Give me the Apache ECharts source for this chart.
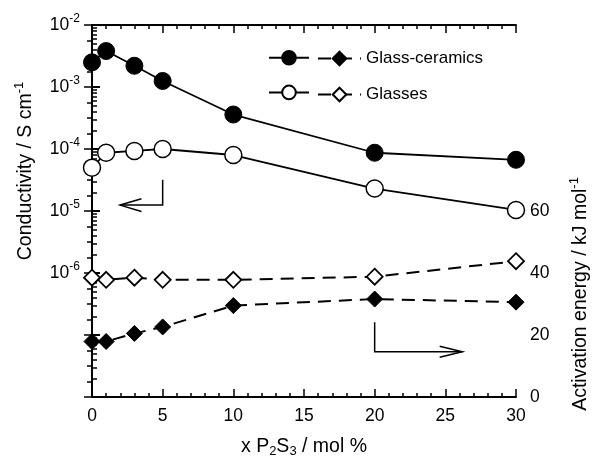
<!DOCTYPE html>
<html>
<head>
<meta charset="utf-8">
<script src="https://cdn.jsdelivr.net/npm/echarts@6/dist/echarts.min.js"></script>
<style>
html,body{margin:0;padding:0;background:#fff;}
#c{width:602px;height:463px;}
</style>
</head>
<body>
<div id="c"></div>
<script>
// ---- data ----
var xValues = [0, 1, 3, 5, 10, 20, 30];                 // x P2S3 / mol %
var gcConductivity = [2.5e-3, 3.8e-3, 2.2e-3, 1.25e-3, 3.6e-4, 8.7e-5, 6.7e-5]; // S/cm
var glConductivity = [5.0e-5, 8.7e-5, 9.3e-5, 1.0e-4, 8.0e-5, 2.3e-5, 1.04e-5]; // S/cm
var gcActivation = [17.9, 17.9, 20.5, 22.6, 29.5, 31.6, 30.6];                   // kJ/mol
var glActivation = [38.5, 37.8, 38.5, 37.8, 37.8, 38.8, 43.8];                   // kJ/mol
var xTicks = [0, 5, 10, 15, 20, 25, 30];
var leftTickExponents = [-2, -3, -4, -5, -6];
var rightTickLabels = [0, 20, 40, 60];
// annotation arrows (data coordinates)
var leftArrow = [[5, 3.2e-5], [5, 1.245e-5], [1.98, 1.245e-5]];
var leftArrowHead = [[3.5, 1.58e-5], [1.98, 1.245e-5], [3.5, 9.8e-6]];
var rightArrow = [[20, 24.1], [20, 14.6], [26.2, 14.6]];
var rightArrowHead = [[24.6, 16.35], [26.2, 14.6], [24.6, 12.85]];

function pairs(xs, ys) { return xs.map(function (x, i) { return [x, ys[i]]; }); }

var FONT = 'Liberation Sans, Arial, sans-serif';
var minorLogTicks = [];
for (var n = -8; n < -2; n++) {
  for (var k = 2; k <= 9; k++) minorLogTicks.push(n + Math.log10(k));
}

var chart = echarts.init(document.getElementById('c'), null, {renderer: 'canvas', width: 602, height: 463});

var black = '#000';
var axisLineStyle = {color: black, width: 2};

var option = {
  backgroundColor: '#fff',
  animation: false,
  textStyle: {fontFamily: FONT, color: black},
  grid: {left: 92, right: 86, top: 25, bottom: 60, containLabel: false},
  legend: [
    {
      data: ['gcCond', 'glCond'],
      orient: 'vertical', left: 263, top: 45,
      itemWidth: 40, itemHeight: 17, itemGap: 19,
      selectedMode: false,
      formatter: function () { return ''; },
      textStyle: {fontSize: 10, lineHeight: 17}
    },
    {
      data: ['gcEa', 'glEa'],
      orient: 'vertical', left: 312, top: 45,
      itemWidth: 43, itemHeight: 17, itemGap: 19,
      selectedMode: false,
      formatter: function (name) { return name === 'gcEa' ? 'Glass-ceramics' : 'Glasses'; },
      textStyle: {fontSize: 17, lineHeight: 17, color: black, fontFamily: FONT}
    }
  ],
  xAxis: [
    {
      type: 'value', position: 'bottom', min: 0, max: 30, interval: 5,
      name: 'x P{sub|2}S{sub|3} / mol %', nameLocation: 'middle', nameGap: 38,
      nameTextStyle: {fontSize: 19.5, color: black, fontFamily: FONT,
        rich: {sub: {fontSize: 13, padding: [10, 0, 0, 0], fontFamily: FONT, color: black}}},
      axisLine: {show: true, lineStyle: axisLineStyle},
      axisTick: {show: true, inside: true, length: 8, lineStyle: {color: black, width: 1.5}},
      minorTick: {show: true, splitNumber: 5, length: 4, lineStyle: {color: black, width: 1.5}},
      axisLabel: {fontSize: 17.5, color: black, margin: 10, fontFamily: FONT,
        formatter: function (v) { return xTicks.indexOf(v) >= 0 ? String(v) : ''; }},
      splitLine: {show: false}
    },
    {
      type: 'value', position: 'top', min: 0, max: 30, interval: 5,
      axisLine: {show: true, lineStyle: axisLineStyle},
      axisTick: {show: true, inside: true, length: 8, lineStyle: {color: black, width: 1.5}},
      minorTick: {show: true, splitNumber: 5, length: 4, lineStyle: {color: black, width: 1.5}},
      axisLabel: {show: false},
      splitLine: {show: false}
    }
  ],
  yAxis: [
    {
      type: 'log', logBase: 10, position: 'left', min: 1e-8, max: 1e-2,
      name: 'Conductivity / S cm{sup|-1}', nameLocation: 'middle', nameGap: 54, nameRotate: 90,
      nameTextStyle: {fontSize: 19.5, color: black, fontFamily: FONT, padding: [0, 0, 0, 80],
        rich: {sup: {fontSize: 13, padding: [0, 0, 12, 0], fontFamily: FONT, color: black}}},
      axisLine: {show: true, lineStyle: axisLineStyle},
      axisTick: {show: true, inside: true, length: 8, lineStyle: {color: black, width: 2}},
      axisLabel: {
        margin: 12, color: black, fontFamily: FONT,
        formatter: function (v) {
          var e = Math.round(Math.log10(v));
          if (leftTickExponents.indexOf(e) < 0) return '';
          return '{b|10}{s|' + e + '}';
        },
        rich: {
          b: {fontSize: 17.5, fontFamily: FONT, color: black},
          s: {fontSize: 12, fontFamily: FONT, color: black, padding: [0, 0, 12, 0]}
        }
      },
      splitLine: {show: false}
    },
    {
      type: 'value', position: 'right', min: 0, max: 120, interval: 20,
      name: 'Activation energy / kJ mol{sup|-1}', nameLocation: 'middle', nameGap: 52, nameRotate: 90,
      nameTextStyle: {fontSize: 19.5, color: black, fontFamily: FONT, padding: [0, 166, 0, 0],
        rich: {sup: {fontSize: 13, padding: [0, 0, 12, 0], fontFamily: FONT, color: black}}},
      axisLine: {show: true, lineStyle: axisLineStyle},
      axisTick: {show: true, inside: true, length: 8, lineStyle: {color: black, width: 1.5}},
      minorTick: {show: true, splitNumber: 4, length: 5, lineStyle: {color: black, width: 1.5}},
      axisLabel: {fontSize: 17.5, color: black, margin: 14, fontFamily: FONT,
        formatter: function (v) { return rightTickLabels.indexOf(v) >= 0 ? String(v) : ''; }},
      splitLine: {show: false}
    },
    {
      type: 'value', position: 'left', min: -8, max: -2,
      axisLine: {show: false},
      axisTick: {show: true, inside: true, length: 5, customValues: minorLogTicks,
        lineStyle: {color: black, width: 1.5}},
      axisLabel: {show: false},
      splitLine: {show: false}
    }
  ],
  series: [
    {
      name: 'gcCond', type: 'line', xAxisIndex: 0, yAxisIndex: 0,
      data: pairs(xValues, gcConductivity),
      symbol: 'circle', symbolSize: 17,
      itemStyle: {color: black, borderColor: black, borderWidth: 1},
      lineStyle: {color: black, width: 1.8, type: 'solid'}, z: 5
    },
    {
      name: 'glCond', type: 'line', xAxisIndex: 0, yAxisIndex: 0,
      data: pairs(xValues, glConductivity),
      symbol: 'circle', symbolSize: 17,
      itemStyle: {color: '#fff', borderColor: black, borderWidth: 1.5},
      lineStyle: {color: black, width: 1.8, type: 'solid'}, z: 5
    },
    {
      name: 'gcEa', type: 'line', xAxisIndex: 0, yAxisIndex: 1,
      data: pairs(xValues, gcActivation),
      symbol: 'diamond', symbolSize: 16,
      itemStyle: {color: black, borderColor: black, borderWidth: 1},
      lineStyle: {color: black, width: 2, type: [13, 8]}, z: 5
    },
    {
      name: 'glEa', type: 'line', xAxisIndex: 0, yAxisIndex: 1,
      data: pairs(xValues, glActivation),
      symbol: 'diamond', symbolSize: 16,
      itemStyle: {color: '#fff', borderColor: black, borderWidth: 1.8},
      lineStyle: {color: black, width: 2, type: [13, 8]}, z: 5
    },
    {
      name: 'leftArrow', type: 'lines', coordinateSystem: 'cartesian2d', xAxisIndex: 0, yAxisIndex: 0,
      polyline: true, silent: true,
      lineStyle: {color: black, width: 1.5, opacity: 1},
      data: [{coords: leftArrow}, {coords: leftArrowHead}]
    },
    {
      name: 'rightArrow', type: 'lines', coordinateSystem: 'cartesian2d', xAxisIndex: 0, yAxisIndex: 1,
      polyline: true, silent: true,
      lineStyle: {color: black, width: 1.5, opacity: 1},
      data: [{coords: rightArrow}, {coords: rightArrowHead}]
    }
  ]
};
chart.setOption(option);
</script>
</body>
</html>
